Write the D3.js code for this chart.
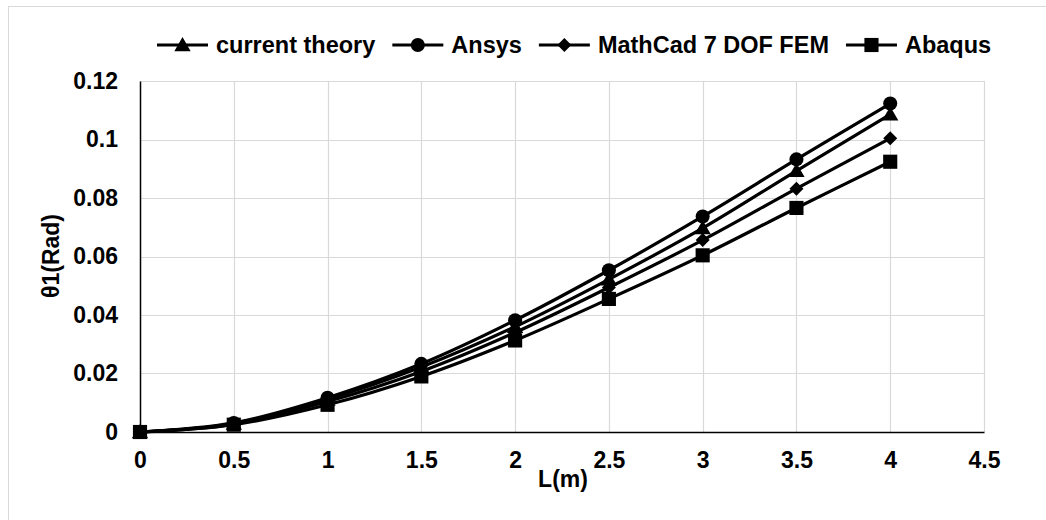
<!DOCTYPE html>
<html>
<head>
<meta charset="utf-8">
<script src="https://cdn.jsdelivr.net/npm/d3@7"></script>
<style>
  html, body { margin: 0; padding: 0; background: #fff; }
  svg { display: block; }
  text { font-family: "Liberation Sans", Arial, sans-serif; font-weight: bold; fill: #000; }
</style>
</head>
<body>
<svg id="chart" width="1046" height="520"></svg>
<script>
// ---- data ----
const xValues = [0, 0.5, 1, 1.5, 2, 2.5, 3, 3.5, 4];
const currentTheory = [0, 0.0029, 0.0112, 0.0222, 0.0360, 0.0522, 0.0697, 0.0893, 0.1086];
const ansys         = [0, 0.0031, 0.0117, 0.0233, 0.0382, 0.0553, 0.0737, 0.0932, 0.1123];
const mathCad       = [0, 0.0027, 0.0104, 0.0207, 0.0340, 0.0494, 0.0656, 0.0832, 0.1004];
const abaqus        = [0, 0.0025, 0.0093, 0.0190, 0.0313, 0.0455, 0.0604, 0.0766, 0.0924];
const seriesNames   = ["current theory", "Ansys", "MathCad 7 DOF FEM", "Abaqus"];
const seriesSymbols = ["triangle", "circle", "diamond", "square"];
const xTicks = [0, 0.5, 1, 1.5, 2, 2.5, 3, 3.5, 4, 4.5];
const yTicks = [0, 0.02, 0.04, 0.06, 0.08, 0.1, 0.12];
const xTitle = "L(m)";
const yTitle = "θ1(Rad)";

const seriesValues = [currentTheory, ansys, mathCad, abaqus];

const svg = d3.select("#chart");
const FS = 23;
const LFS = 23.5;

// outer chart border
svg.append("rect").attr("x", 8.5).attr("y", 6.5).attr("width", 1200).attr("height", 700)
  .attr("fill", "#fff").attr("stroke", "#d9d9d9").attr("stroke-width", 1);

const x = d3.scaleLinear().domain([0, 4.5]).range([140, 984]);
const y = d3.scaleLinear().domain([0, 0.12]).range([432, 81]);

// gridlines
svg.append("g").selectAll("line").data(xTicks.slice(1)).join("line")
  .attr("x1", d => Math.round(x(d)) + 0.5).attr("x2", d => Math.round(x(d)) + 0.5)
  .attr("y1", y(0.12)).attr("y2", y(0))
  .attr("stroke", "#d9d9d9").attr("stroke-width", 1.2);
svg.append("g").selectAll("line").data(yTicks.slice(1)).join("line")
  .attr("x1", x(0)).attr("x2", x(4.5))
  .attr("y1", d => Math.round(y(d)) + 0.5).attr("y2", d => Math.round(y(d)) + 0.5)
  .attr("stroke", "#d9d9d9").attr("stroke-width", 1.2);

// axes
const fmt = d => String(+d.toFixed(2));
const xAxis = svg.append("g").attr("transform", `translate(0,${y(0)})`)
  .call(d3.axisBottom(x).tickValues(xTicks).tickFormat(fmt).tickSize(0).tickPadding(20));
xAxis.select(".domain").attr("stroke", "#000").attr("stroke-width", 1.5);
xAxis.selectAll("text").attr("font-size", FS).attr("font-family", "Liberation Sans, Arial, sans-serif").attr("font-weight", "bold");

const yAxis = svg.append("g").attr("transform", `translate(${x(0)},0)`)
  .call(d3.axisLeft(y).tickValues(yTicks).tickFormat(fmt).tickSize(0).tickPadding(22));
yAxis.select(".domain").attr("stroke", "#000").attr("stroke-width", 1.5);
yAxis.selectAll("text").attr("font-size", FS).attr("font-family", "Liberation Sans, Arial, sans-serif").attr("font-weight", "bold");

// axis titles
svg.append("text").attr("x", 563).attr("y", 487).attr("text-anchor", "middle")
  .attr("font-size", FS).text(xTitle);
svg.append("text").attr("transform", `translate(59,256) rotate(-90)`).attr("text-anchor", "middle")
  .attr("font-size", FS).text(yTitle);

// symbols
const symType = { triangle: d3.symbolTriangle, circle: d3.symbolCircle, square: d3.symbolSquare };
const symSize = { triangle: 115, circle: 155, square: 200 };
function sym(name) {
  if (name === "diamond") { const r = 7; return `M0,${-r}L${r},0L0,${r}L${-r},0Z`; }
  return d3.symbol().type(symType[name]).size(symSize[name])();
}

const line = d3.line().x((d, i) => x(xValues[i])).y(d => y(d)).curve(d3.curveCatmullRom.alpha(0.5));

seriesValues.forEach((vals, si) => {
  const g = svg.append("g");
  g.append("path").attr("d", line(vals)).attr("fill", "none").attr("stroke", "#000").attr("stroke-width", 3.2);
  g.selectAll("path.m").data(vals).join("path").attr("class", "m")
    .attr("d", sym(seriesSymbols[si]))
    .attr("transform", (d, i) => `translate(${x(xValues[i])},${y(d) + (seriesSymbols[si] === "triangle" ? 1.5 : 0)})`)
    .attr("fill", "#000");
});

// legend
let lx = 157;
const ly = 45;
seriesNames.forEach((name, si) => {
  const g = svg.append("g");
  g.append("line").attr("x1", lx).attr("x2", lx + 51).attr("y1", ly).attr("y2", ly)
    .attr("stroke", "#000").attr("stroke-width", 3.2);
  g.append("path").attr("d", sym(seriesSymbols[si]))
    .attr("transform", `translate(${lx + 25.5},${ly + (seriesSymbols[si] === "triangle" ? 1.5 : 0)})`).attr("fill", "#000");
  const t = g.append("text").attr("x", lx + 59).attr("y", ly).attr("dy", "0.35em")
    .attr("font-size", LFS).text(name);
  lx = lx + 59 + t.node().getComputedTextLength() + 17;
});
</script>
</body>
</html>
